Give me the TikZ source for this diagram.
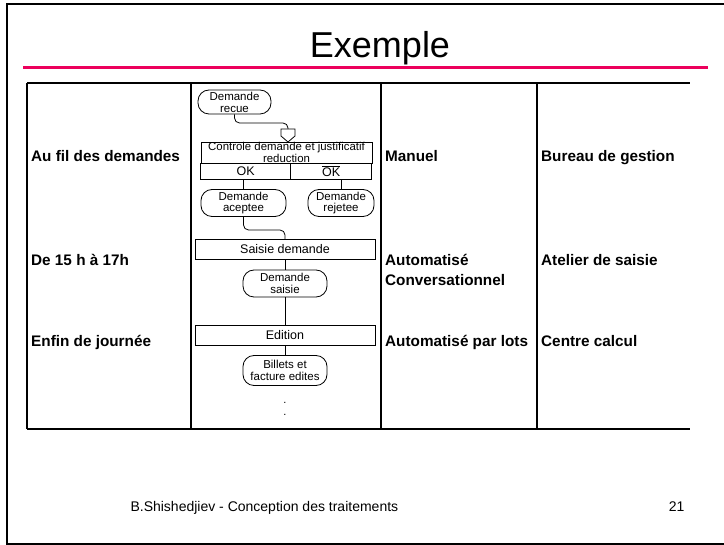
\documentclass[tikz,border=0pt]{standalone}
\usepackage{fontspec}
\setmainfont{Liberation Sans}
\usepackage{xcolor}
\usepackage{tikz}
\usetikzlibrary{positioning}
\definecolor{titlerule}{RGB}{236,0,92}

\begin{document}
\begin{tikzpicture}[x=1pt,y=-1pt,
term/.style={draw,rectangle,rounded corners=11pt,inner sep=0pt,align=center,
    line width=.8pt,font=\fontsize{11.5}{11.8}\selectfont},
proc/.style={draw,rectangle,minimum width=180pt,minimum height=20pt,inner sep=0pt,
    line width=.8pt,font=\fontsize{12.5}{13}\selectfont},
okbox/.style={draw,rectangle,minimum height=16pt,inner sep=0pt,outer sep=0pt,
    line width=.8pt,font=\fontsize{12.5}{13}\selectfont},
cell/.style={anchor=base west,align=left,inner sep=0pt,
    font=\fontsize{15.3}{20.3}\selectfont\bfseries},
link/.style={line width=.8pt}]
\useasboundingbox (0,0) rectangle (724,545);
\draw [line width=2pt] (730,4) -- (7,4) -- (7,544) -- (730,544);
\node (title) [anchor=base,font=\fontsize{36}{40}\selectfont] at (380,58) {Exemple};
\draw [titlerule,line width=3pt] (23,68) -- (708,68);
% table
\draw [line width=1.5pt] (27,83) -- (690,83) (27,429) -- (690,429);
\foreach \x in {27,191,381,537}
    \draw [line width=1.5pt] (\x,83) -- (\x,429);
\node (when1) [cell] at (31,162) {Au fil des demandes};
\node (when2) [cell] at (31,265.5) {De 15 h à 17h};
\node (when3) [cell] at (31,347) {Enfin de journée};
\node (mode1) [cell] at (385,162) {Manuel};
\node (mode2) [cell] at (385,286) {Automatisé\\Conversationnel};
\node (mode3) [cell] at (385,347) {Automatisé par lots};
\node (place1) [cell] at (541,162) {Bureau de gestion};
\node (place2) [cell] at (541,265.5) {Atelier de saisie};
\node (place3) [cell] at (541,347) {Centre calcul};
% flow
\node (recue) [term,minimum width=73pt,minimum height=24pt] at (234.5,102) {Demande\\recue};
\coordinate (arrtip) at (288,142);
\coordinate (arrtop) at (288,129);
\draw [link] (arrtip) -- ++(-7,-6) -- ++(0,-7) -- ++(14,0) -- ++(0,7) -- cycle;
\draw [link,rounded corners=5pt] (recue.south) |- (261,123) -| (arrtop);
\node (ctrl) [draw,rectangle,minimum width=171pt,minimum height=21pt,inner sep=0pt,
    line width=.8pt,align=center,font=\fontsize{11.4}{12}\selectfont]
    at (286.5,152.5) {Controle demande et justificatif\\reduction};
\node (okA) [okbox,minimum width=90pt,below right=0pt and 0pt of ctrl.south west] {OK};
\node (okB) [okbox,minimum width=81pt,right=0pt of okA] {$\overline{\hbox{OK}}$};
\node (aceptee) [term,minimum width=85pt,minimum height=27pt] at (243.5,203) {Demande\\aceptee};
\node (rejetee) [term,minimum width=66pt,minimum height=27pt] at (341,203) {Demande\\rejetee};
\draw [link] (aceptee.north |- okA.south) -- (aceptee.north);
\draw [link] (rejetee.north |- okB.south) -- (rejetee.north);
\node (saisie) [proc] at (285,249.5) {Saisie demande};
\draw [link,rounded corners=5pt] (aceptee.south) |- (265,230) -| (saisie.north);
\node (dsaisie) [term,minimum width=84pt,minimum height=27pt] at (285,283.5) {Demande\\saisie};
\draw [link] (saisie.south) -- (dsaisie.north);
\node (edition) [proc] at (285,335) {Edition};
\draw [link] (dsaisie.south) -- (edition.north);
\node (billets) [term,minimum width=84pt,minimum height=30pt] at (285,370.5) {Billets et\\facture edites};
\draw [link] (edition.south) -- (billets.north);
\node (dotA) [anchor=base,font=\fontsize{11}{11}\selectfont] at (285,404) {.};
\node (dotB) [anchor=base,font=\fontsize{11}{11}\selectfont] at (285,416) {.};
% footer
\node (author) [anchor=base west,font=\fontsize{14}{16}\selectfont] at (127,512)
    {B.Shishedjiev - Conception des traitements};
\node (page) [anchor=base east,font=\fontsize{14}{16}\selectfont] at (688,512) {21};
\end{tikzpicture}
\end{document}
